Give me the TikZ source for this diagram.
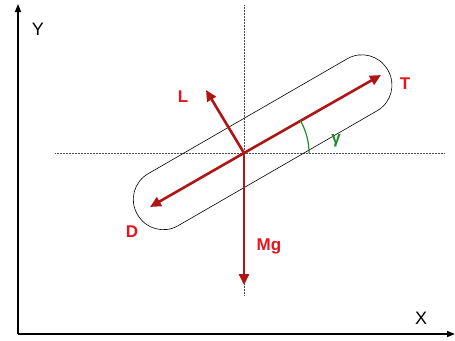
\documentclass[tikz,border=0pt]{standalone}
\usepackage{fontspec}
\setmainfont{Liberation Sans}
\usetikzlibrary{arrows.meta,calc}
\definecolor{arrred}{HTML}{B01515}
\definecolor{lblred}{HTML}{E8141C}
\definecolor{anggreen}{HTML}{1E8C2A}
\tikzset{
  force/.style={draw=arrred, line width=2.6pt, -{Triangle[length=11pt,width=10pt]}},
  axis/.style={draw=black, line width=1.5pt, -{Triangle[length=8pt,width=6pt]}},
  guide/.style={draw=black!70, densely dotted, line width=0.5pt},
  flbl/.style={text=lblred, font=\bfseries\fontsize{17}{17}\selectfont, inner sep=0pt},
  albl/.style={font=\fontsize{18}{18}\selectfont, inner sep=0pt}
}
\begin{document}
\begin{tikzpicture}[x=1pt,y=-1pt]
\useasboundingbox (0,0) rectangle (455,340);
% axes
\coordinate (O) at (18,334);
\coordinate (Ytop) at (18,4);
\coordinate (Xend) at (455,334);
\draw[axis] (O) -- (Ytop);
\draw[axis] (O) -- (Xend);
\node[albl] (Ylab) at (38,29) {Y};
\node[albl] (Xlab) at (421,318) {X};
% centre and guides
\coordinate (C) at (244,153);
\coordinate (Vtop) at (244,5);
\coordinate (Vbot) at (244,296);
\coordinate (Hl) at (55,153);
\coordinate (Hr) at (445,153);
\draw[guide] (Vtop) -- (Vbot);
\draw[guide] (Hl) -- (Hr);
% capsule
\begin{scope}[shift={(C)}, rotate=30]
\draw[black, line width=0.6pt, rounded corners=29.5pt] (-123,-30) rectangle (166,30);
\end{scope}
% forces
\coordinate (Ttip) at (381,75);
\coordinate (Dtip) at (150,207);
\coordinate (Ltip) at (206,90);
\coordinate (Mtip) at (244,285);
\draw[force] (C) -- (Ttip);
\draw[force] (C) -- (Dtip);
\draw[force] (C) -- (Ltip);
\draw[force] (C) -- (Mtip);
% angle
\draw[anggreen, line width=1.2pt] ($(C)+(65,0)$) arc[start angle=0, end angle=-30, radius=65];
\node[flbl] (T) at (405,84) {T};
\node[flbl] (L) at (183,97) {L};
\node[flbl] (D) at (132,232) {D};
\node[flbl] (Mg) at (269,246) {Mg};
\node[flbl, text=anggreen] (g) at (336,141) {γ};
\end{tikzpicture}
\end{document}
